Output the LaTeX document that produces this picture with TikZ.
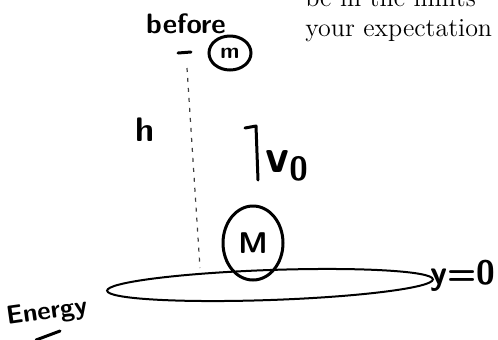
\documentclass[tikz,border=0pt]{standalone}
\usetikzlibrary{shapes.geometric}

\begin{document}
\begin{tikzpicture}[x=0.5pt, y=-0.5pt,
    print/.style={anchor=base west, inner sep=0pt, font=\fontsize{13}{15}\selectfont},
    hand/.style={inner sep=0pt, font=\sffamily\bfseries\fontsize{14}{14}\selectfont},
    ring/.style={draw, ellipse, line width=1.5pt, inner sep=0pt},
    pen/.style={line width=1.5pt, line cap=round, line join=round},
    guide/.style={line width=0.6pt, dash pattern=on 2pt off 3pt, black!75}
  ]
    \useasboundingbox (0,0) rectangle (498,339);
    \clip (0,0) rectangle (498,339);

    % printed text of the page
    \node[print] (lineone) at (305,6) {be in the limits};
    \node[print] (linetwo) at (305,36) {your expectation};

    % before: small mass
    \node[hand] (before) at (186,24) {before};
    \node[ring, minimum width=21pt, minimum height=17pt, font=\sffamily\bfseries\fontsize{11}{11}\selectfont] (small) at (230,53) {m};
    \coordinate (dashl) at (178,53);
    \coordinate (dashr) at (191,52);
    \draw[pen] (dashl) -- (dashr);

    % height guide
    \coordinate (top) at (187,68);
    \coordinate (foot) at (200,268);
    \draw[guide] (top) -- (foot);
    \node[hand, font=\sffamily\bfseries\fontsize{17}{17}\selectfont] (height) at (145,130) {h};

    % launch velocity
    \coordinate (vtip) at (245,128);
    \coordinate (vbend) at (256,126);
    \coordinate (vbase) at (258,180);
    \draw[pen] (vtip) -- (vbend) -- (vbase);
    \node[hand, font=\sffamily\bfseries\fontsize{24}{24}\selectfont] (speed) at (287,166) {v\textsubscript{0}};

    % ground and mass
    \node[draw, ellipse, rotate=2, line width=1pt, minimum width=163pt, minimum height=15pt] (ground) at (270,285) {};
    \node[ring, minimum width=30pt, minimum height=37pt, font=\sffamily\bfseries\fontsize{15}{15}\selectfont] (mass) at (253,243) {M};
    \node[hand, font=\sffamily\bfseries\fontsize{17}{17}\selectfont] (zero) at (463,276) {y=0};

    \node[hand, rotate=8, font=\sffamily\bfseries\fontsize{13}{13}\selectfont] (energy) at (47,313) {Energy};
    \coordinate (ula) at (36,340);
    \coordinate (ulb) at (60,331);
    \draw[pen] (ula) -- (ulb);
\end{tikzpicture}
\end{document}
